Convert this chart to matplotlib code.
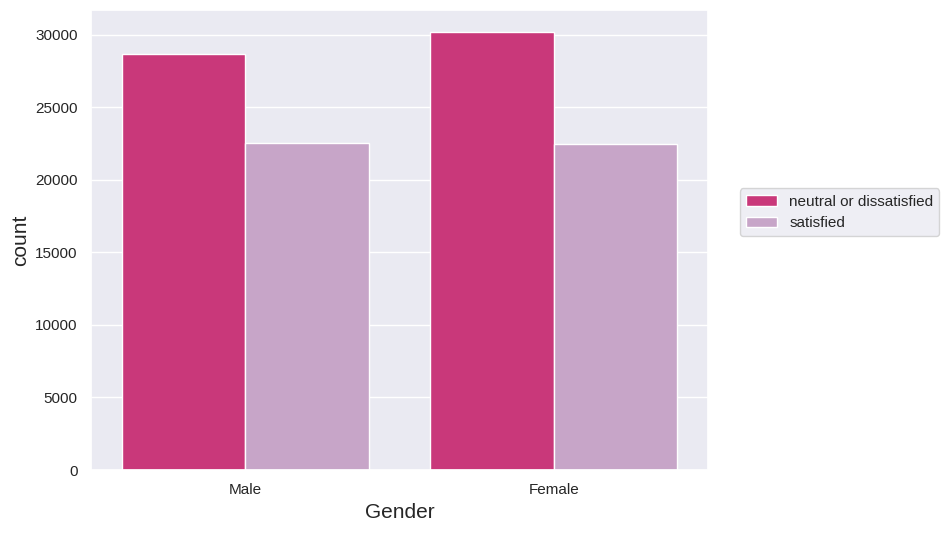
import matplotlib
matplotlib.use("Agg")
import matplotlib.pyplot as plt
import seaborn as sns
import pandas as pd

sns.set_theme(style="darkgrid")
plt.rcParams["font.family"] = ["Liberation Sans", "DejaVu Sans"]

genders = ["Male", "Female"]
classes = ["neutral or dissatisfied", "satisfied"]
neutral_counts = [28700, 30200]
satisfied_counts = [22550, 22500]
colors = ["#c9387a", "#c7a5c8"]

df = pd.DataFrame({
    "Gender": genders * 2,
    "satisfaction": [classes[0]] * 2 + [classes[1]] * 2,
    "count": neutral_counts + satisfied_counts,
})

fig = plt.figure(figsize=(9.51, 5.33), dpi=100)
ax = fig.add_axes([91 / 951, 63 / 533, 617 / 951, 460 / 533])
sns.barplot(data=df, x="Gender", y="count", hue="satisfaction",
            palette=colors, saturation=1, ax=ax, edgecolor="white", linewidth=1)
ax.set_xlabel("Gender", fontsize=15)
ax.set_ylabel("count", fontsize=15)
ax.legend(loc="center left", bbox_to_anchor=(1.04, 0.56), fontsize=11)

plt.savefig("out.png")
